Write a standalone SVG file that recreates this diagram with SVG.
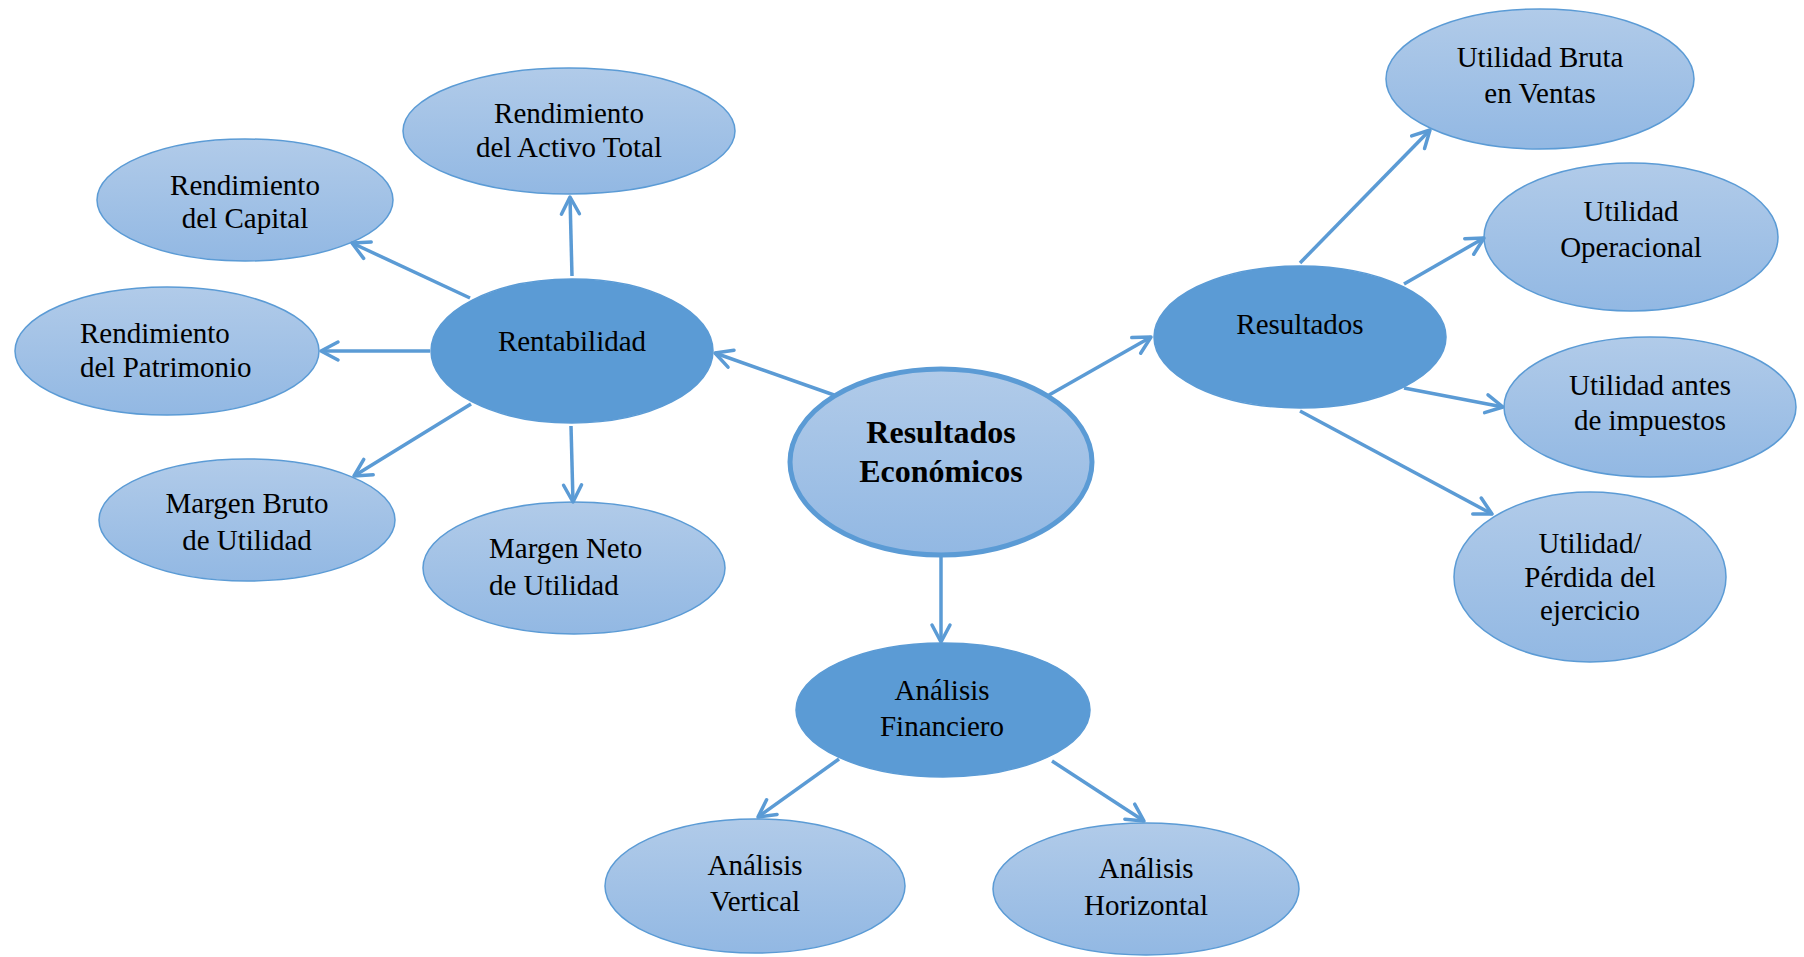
<svg xmlns="http://www.w3.org/2000/svg" width="1804" height="957" viewBox="0 0 1804 957">
<style>
.light{fill:url(#lg);stroke:#5B9BD5;stroke-width:1.5}
.dark{fill:#5B9BD5;stroke:#5B9BD5;stroke-width:1.5}
.center{fill:url(#lg);stroke:#5B9BD5;stroke-width:5}
.t{font-family:"Liberation Serif","Times New Roman",serif;font-size:29px;fill:#000;text-anchor:middle}
.tl{text-anchor:start}
.tb{font-weight:bold;font-size:32px}
.c{stroke:#5B9BD5;stroke-width:3.5;fill:none;marker-end:url(#ah)}
</style>
<defs>
<linearGradient id="lg" x1="0" y1="0" x2="0" y2="1">
<stop offset="0" stop-color="#B1CBE9"/>
<stop offset="1" stop-color="#92B8E3"/>
</linearGradient>
<marker id="ah" markerUnits="userSpaceOnUse" viewBox="-22 -14 26 28" refX="0" refY="0" markerWidth="26" markerHeight="28" orient="auto">
<path d="M-17,-9 L0,0 L-17,9" fill="none" stroke="#5B9BD5" stroke-width="3.5" stroke-linecap="round" stroke-linejoin="round"/>
</marker>
</defs>
<rect width="1804" height="957" fill="#fff"/>

<g id="node-activo">
<ellipse class="light" cx="569" cy="131" rx="166" ry="63"/>
<text class="t" x="569" y="123">Rendimiento</text>
<text class="t" x="569" y="157">del Activo Total</text>
</g>
<g id="node-capital">
<ellipse class="light" cx="245" cy="200" rx="148" ry="61"/>
<text class="t" x="245" y="195">Rendimiento</text>
<text class="t" x="245" y="228">del Capital</text>
</g>
<g id="node-patrimonio">
<ellipse class="light" cx="167" cy="351" rx="152" ry="64"/>
<text class="t tl" x="80" y="343">Rendimiento</text>
<text class="t tl" x="80" y="377">del Patrimonio</text>
</g>
<g id="node-margen-bruto">
<ellipse class="light" cx="247" cy="520" rx="148" ry="61"/>
<text class="t" x="247" y="513">Margen Bruto</text>
<text class="t" x="247" y="550">de Utilidad</text>
</g>
<g id="node-margen-neto">
<ellipse class="light" cx="574" cy="568" rx="151" ry="66"/>
<text class="t tl" x="489" y="558">Margen Neto</text>
<text class="t tl" x="489" y="595">de Utilidad</text>
</g>
<g id="node-rentabilidad">
<ellipse class="dark" cx="572" cy="351" rx="141" ry="72"/>
<text class="t" x="572" y="351">Rentabilidad</text>
</g>
<g id="node-central">
<ellipse class="center" cx="941" cy="462" rx="151" ry="93"/>
<text class="t tb" x="941" y="443">Resultados</text>
<text class="t tb" x="941" y="482">Económicos</text>
</g>
<g id="node-resultados">
<ellipse class="dark" cx="1300" cy="337" rx="146" ry="71"/>
<text class="t" x="1300" y="334">Resultados</text>
</g>
<g id="node-bruta">
<ellipse class="light" cx="1540" cy="79" rx="154" ry="70"/>
<text class="t" x="1540" y="67">Utilidad Bruta</text>
<text class="t" x="1540" y="103">en Ventas</text>
</g>
<g id="node-operacional">
<ellipse class="light" cx="1631" cy="237" rx="147" ry="74"/>
<text class="t" x="1631" y="221">Utilidad</text>
<text class="t" x="1631" y="257">Operacional</text>
</g>
<g id="node-antes">
<ellipse class="light" cx="1650" cy="407" rx="146" ry="70"/>
<text class="t" x="1650" y="395">Utilidad antes</text>
<text class="t" x="1650" y="430">de impuestos</text>
</g>
<g id="node-perdida">
<ellipse class="light" cx="1590" cy="577" rx="136" ry="85"/>
<text class="t" x="1590" y="553">Utilidad/</text>
<text class="t" x="1590" y="587">Pérdida del</text>
<text class="t" x="1590" y="620">ejercicio</text>
</g>
<g id="node-financiero">
<ellipse class="dark" cx="943" cy="710" rx="147" ry="67"/>
<text class="t" x="942" y="700">Análisis</text>
<text class="t" x="942" y="736">Financiero</text>
</g>
<g id="node-vertical">
<ellipse class="light" cx="755" cy="886" rx="150" ry="67"/>
<text class="t" x="755" y="875">Análisis</text>
<text class="t" x="755" y="911">Vertical</text>
</g>
<g id="node-horizontal">
<ellipse class="light" cx="1146" cy="889" rx="153" ry="66"/>
<text class="t" x="1146" y="878">Análisis</text>
<text class="t" x="1146" y="915">Horizontal</text>
</g>

<g id="connectors">
<line class="c" x1="834" y1="395" x2="715" y2="353"/>
<line class="c" x1="1049" y1="395" x2="1151" y2="337"/>
<line class="c" x1="941" y1="556" x2="941" y2="642"/>
<line class="c" x1="572" y1="276" x2="570" y2="197"/>
<line class="c" x1="470" y1="298" x2="352" y2="243"/>
<line class="c" x1="430" y1="351" x2="321" y2="351"/>
<line class="c" x1="471" y1="404" x2="354" y2="476"/>
<line class="c" x1="571" y1="426" x2="573" y2="502"/>
<line class="c" x1="1300" y1="263" x2="1430" y2="130"/>
<line class="c" x1="1404" y1="284" x2="1484" y2="238"/>
<line class="c" x1="1404" y1="388" x2="1503" y2="407"/>
<line class="c" x1="1300" y1="411" x2="1492" y2="514"/>
<line class="c" x1="839" y1="759" x2="758" y2="817"/>
<line class="c" x1="1052" y1="761" x2="1144" y2="821"/>
</g>
</svg>
